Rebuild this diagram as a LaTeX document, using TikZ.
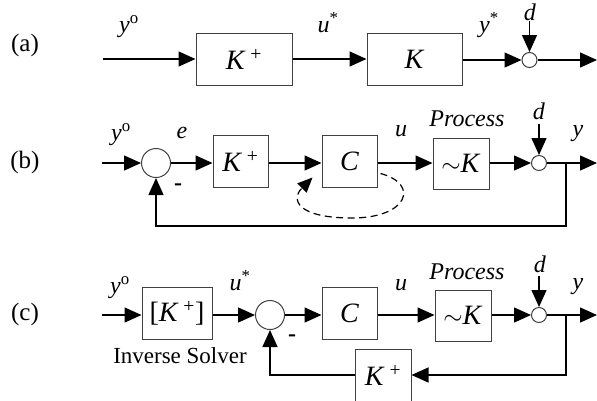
\documentclass[tikz,border=0pt]{standalone}
\usepackage{fontspec}
\setmainfont{Liberation Serif}
\usetikzlibrary{arrows.meta}

\begin{document}
\begin{tikzpicture}[x=1pt,y=-1pt,>={Triangle[length=17pt,width=15pt]},line width=1.3pt,
        block/.style={draw=black!75,line width=1pt,minimum height=52pt,inner sep=0pt,font=\fontsize{28}{30}\selectfont},
        sumbig/.style={draw=black!75,line width=1pt,circle,minimum size=29pt,inner sep=0pt},
        sumsmall/.style={draw=black!75,line width=1pt,circle,minimum size=15pt,inner sep=0pt},
        lbl/.style={font=\fontsize{24}{26}\selectfont,inner sep=0pt},
        rowlbl/.style={font=\fontsize{25}{27}\selectfont,inner sep=0pt},
        minus/.style={font=\fontsize{24}{26}\selectfont\bfseries,inner sep=0pt}]
        \useasboundingbox (0,0) rectangle (597,400);

        % (a) open loop
        \node[rowlbl] (ta) at (25,45) {(a)};
        \coordinate (a0) at (103,59);
        \node[block,minimum width=96pt] (akp) at (244,59) {\textit{K}\,\textsuperscript{+}};
        \node[block,minimum width=95pt] (ak) at (414.5,59) {\textit{K}};
        \node[sumsmall] (as) at (529.5,60) {};
        \coordinate (ad) at (529.5,21);
        \coordinate (aout) at (597,60);
        \node[lbl] at (129,27) {\textit{y}\textsuperscript{o}};
        \node[lbl] at (328,23) {\textit{u}\textsuperscript{*}};
        \node[lbl] at (489,25) {\textit{y}\textsuperscript{*}};
        \node[lbl] at (530,12) {\textit{d}};
        \draw[->] (a0) -- (akp);
        \draw[->] (akp) -- (ak);
        \draw[->] (ak.east |- as) -- (as);
        \draw[->] (ad) -- (as);
        \draw[->] (as) -- (aout);

        % (b) feedback loop
        \node[rowlbl] (tb) at (25,162) {(b)};
        \coordinate (b0) at (102,163);
        \node[sumbig] (bs1) at (156,163) {};
        \node[block,minimum width=55pt] (bkp) at (240.5,161) {\textit{K}\,\textsuperscript{+}};
        \node[block,minimum width=55pt] (bc) at (349.5,161) {\textit{C}};
        \node[block,minimum width=56pt,minimum height=51pt] (bk) at (461,163.5) {$\sim$\textit{K}};
        \node[sumsmall] (bs2) at (539,163) {};
        \coordinate (bd) at (539,124);
        \coordinate (bout) at (597,163);
        \coordinate (bbr) at (566,163);
        \node[lbl] at (121,135) {\textit{y}\textsuperscript{o}};
        \node[lbl] at (182,133) {\textit{e}};
        \node[lbl] at (401,131) {\textit{u}};
        \node[lbl] at (467,119) {\textit{Process}};
        \node[lbl] at (539,111) {\textit{d}};
        \node[lbl] at (578,134) {\textit{y}};
        \node[minus] at (178,187) {-};
        \draw[->] (b0) -- (bs1);
        \draw[->] (bs1) -- (bkp.west |- bs1);
        \draw[->] (bkp.east |- bs1) -- (bc.west |- bs1);
        \draw[->] (bc.east |- bs1) -- (bk.west |- bs1);
        \draw[->] (bk.east |- bs2) -- (bs2);
        \draw[->] (bd) -- (bs2);
        \draw[->] (bs2) -- (bout);
        \draw[->] (bbr) -- (566,226) -| (bs1);
        \draw[-{Triangle[length=15pt,width=13pt]},dash pattern=on 7pt off 4.5pt,line width=1.2pt]
            ([xshift=3pt,yshift=14pt]bc.south east)
            .. controls (420,184) and (408,218) .. (352,218)
            .. controls (298,218) and (290,200) .. ([xshift=-9pt,yshift=10pt]bc.south west);

        % (c) inverse solver
        \node[rowlbl] (tc) at (25,314) {(c)};
        \coordinate (c0) at (102,315);
        \node[block,minimum width=70pt] (ckp) at (177,313) {[\textit{K}\,\textsuperscript{+}]};
        \node[lbl,font=\fontsize{23}{25}\selectfont] at (180,356) {Inverse Solver};
        \node[sumbig] (cs1) at (270,315) {};
        \node[block,minimum width=55pt] (cc) at (349.5,313) {\textit{C}};
        \node[block,minimum width=56pt,minimum height=51pt] (ck) at (463,315.5) {$\sim$\textit{K}};
        \node[sumsmall] (cs2) at (539,315) {};
        \node[block,minimum width=56pt] (cfb) at (383,375) {\textit{K}\,\textsuperscript{+}};
        \coordinate (cd) at (539,276);
        \coordinate (cout) at (597,315);
        \coordinate (cbr) at (566,315);
        \node[lbl] at (120,288) {\textit{y}\textsuperscript{o}};
        \node[lbl] at (240,281) {\textit{u}\textsuperscript{*}};
        \node[lbl] at (401,285) {\textit{u}};
        \node[lbl] at (467,272) {\textit{Process}};
        \node[lbl] at (540,264) {\textit{d}};
        \node[lbl] at (578,287) {\textit{y}};
        \node[minus] at (292,338) {-};
        \draw[->] (c0) -- (ckp.west |- c0);
        \draw[->] (ckp.east |- cs1) -- (cs1);
        \draw[->] (cs1) -- (cc.west |- cs1);
        \draw[->] (cc.east |- cs1) -- (ck.west |- cs1);
        \draw[->] (ck.east |- cs2) -- (cs2);
        \draw[->] (cd) -- (cs2);
        \draw[->] (cs2) -- (cout);
        \draw[->] (cbr) |- (cfb.east);
        \draw[->] (cfb.west) -| (cs1);
    \end{tikzpicture}
\end{document}
